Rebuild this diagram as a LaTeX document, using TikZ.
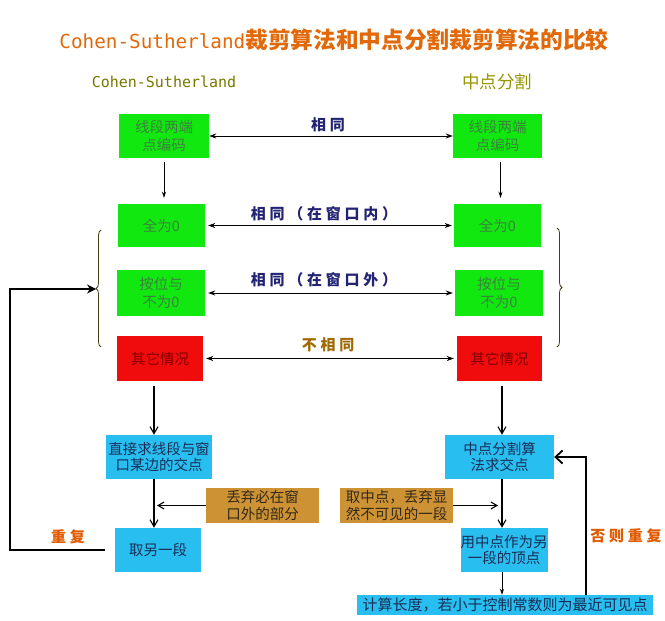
\documentclass[tikz,border=0pt]{standalone}
\usepackage{fontspec}
\setmainfont{Noto Sans CJK SC}
\newfontfamily\mono{DejaVu Sans Mono}
\usetikzlibrary{arrows.meta,decorations.pathreplacing,calc}
\definecolor{gbox}{RGB}{16,232,16}
\definecolor{gtxt}{RGB}{60,130,60}
\definecolor{rbox}{RGB}{240,12,12}
\definecolor{rtxt}{RGB}{130,0,0}
\definecolor{bbox}{RGB}{40,190,240}
\definecolor{btxt}{RGB}{25,45,85}
\definecolor{obox}{RGB}{205,146,52}
\definecolor{otxt}{RGB}{50,40,25}
\definecolor{lblue}{RGB}{35,35,115}
\definecolor{lbrown}{RGB}{160,105,0}
\definecolor{lorange}{RGB}{225,90,0}
\definecolor{ttl}{RGB}{225,105,10}
\definecolor{olive1}{RGB}{120,120,0}
\definecolor{olive2}{RGB}{150,150,0}
\definecolor{brc}{RGB}{70,60,20}
\begin{document}
\begin{tikzpicture}[x=1pt,y=-1pt,
  wh/.style 2 args={minimum width=#1pt,minimum height=#2pt},
  box/.style={inner sep=0pt, align=center, font=\fontsize{14.5}{18}\selectfont},
  gb/.style={box, fill=gbox, text=gtxt},
  rb/.style={box, fill=rbox, text=rtxt},
  bb/.style={box, fill=bbox, text=btxt, font=\fontsize{14.5}{16.5}\selectfont},
  ob/.style={box, fill=obox, text=otxt, font=\fontsize{14.5}{16.5}\selectfont},
  lab/.style={inner sep=0pt, font=\fontsize{15}{15}\selectfont\bfseries\addfontfeature{LetterSpace=25}},
  dar/.style={{Stealth[length=7pt,width=5pt]}-{Stealth[length=7pt,width=5pt]}, line width=1pt},
  ars/.style={-{Stealth[length=6pt,width=4pt]}, line width=1pt},
  vb/.style={-{Straight Barb[length=7pt,width=8pt]}, line width=1.1pt},
  vb2/.style={-{Straight Barb[length=6pt,width=7pt]}, line width=1.1pt},
  bigv/.style={-{Straight Barb[length=7pt,width=13pt,line width=1.8pt]}, line width=1.1pt},
  bigs/.style={-{Stealth[length=9pt,width=9pt]}, line width=1.1pt},
  brace/.style={brc, line width=0.8pt, decorate, decoration={brace, amplitude=5pt}}
]
\useasboundingbox (0,0) rectangle (665,621);
\fill[white] (0,0) rectangle (665,621);

% titles
\node[inner sep=0pt, text=ttl] (title) at (334,40)
  {{\mono\fontsize{19.3}{20}\selectfont Cohen-Sutherland}{\fontsize{22.7}{24}\selectfont\bfseries 裁剪算法和中点分割裁剪算法的比较}};
\node[inner sep=0pt, text=olive1, font=\mono\fontsize{15}{15}\selectfont] (stl) at (164,82) {Cohen-Sutherland};
\node[inner sep=0pt, text=olive2, font=\fontsize{17.5}{18}\selectfont] (str) at (497,82) {中点分割};

% boxes
\node[gb, wh={90}{44}] (L1) at (164,136) {线段两端\\点编码};
\node[gb, wh={89}{44}] (R1) at (497.5,136) {线段两端\\点编码};
\node[gb, wh={87}{43}] (L2) at (161.5,225.5) {全为0};
\node[gb, wh={87}{43}] (R2) at (497.5,225.5) {全为0};
\node[gb, wh={88}{46}] (L3) at (161,293) {按位与\\不为0};
\node[gb, wh={88}{46}] (R3) at (499,293) {按位与\\不为0};
\node[rb, wh={86}{45}] (L4) at (160,358.5) {其它情况};
\node[rb, wh={85}{45}] (R4) at (499.5,358.5) {其它情况};
\node[bb, wh={106}{44}] (L5) at (159,457) {直接求线段与窗\\口某边的交点};
\node[bb, wh={109}{44}] (R5) at (499.5,457) {中点分割算\\法求交点};
\node[ob, wh={113}{35}] (LB) at (262.5,505.5) {丢弃必在窗\\口外的部分};
\node[ob, wh={113}{35}] (RB) at (396.5,505.5) {取中点，丢弃显\\然不可见的一段};
\node[bb, wh={86}{44}] (L6) at (158,550) {取另一段};
\node[bb, wh={86}{44}] (R6) at (504,550) {用中点作为另\\一段的顶点};
\node[bb, wh={296}{20}, font=\fontsize{15}{15}\selectfont] (R7) at (505,605) {计算长度，若小于控制常数则为最近可见点};

% labels
\node[lab, text=lblue] (t1) at (328,125) {相同};
\node[lab, text=lblue] (t2) at (324,214) {相同（在窗口内）};
\node[lab, text=lblue] (t3) at (324,280) {相同（在窗口外）};
\node[lab, text=lbrown] (t4) at (328,345) {不相同};
\node[lab, text=lorange] (t5) at (68,537) {重复};
\node[lab, text=lorange] (t6) at (626,536) {否则重复};

% helper coordinates
\coordinate (lcol) at (154,0);
\coordinate (rcol) at (502,0);
\coordinate (rl) at (586,0);
\coordinate (ll) at (10,0);
\coordinate (btip) at (96,289);

% horizontal comparisons
\draw[dar] (L1.east) -- (R1.west);
\draw[dar, shorten <=3pt, shorten >=2pt] (L2.east) -- (R2.west);
\draw[dar, shorten <=3pt, shorten >=2pt] (L3.east) -- (R3.west);
\draw[dar, shorten <=3pt, shorten >=3pt] (L4.east) -- (R4.west);

% top down arrows
\draw[ars, shorten <=4pt, shorten >=6pt] (L1.south) -- (L1.south |- L2.north);
\draw[ars, shorten <=4pt, shorten >=6pt] ([xshift=3pt]R1.south) -- ([xshift=3pt]R1.south |- R2.north);

% braces
\draw[brace] (101,347) -- (101,230);
\draw[brace] (557,228) -- (557,347);

% left column
\draw[vb, shorten <=5pt] (L4.south -| lcol) -- (L5.north -| lcol);
\draw[vb] (L5.south -| lcol) -- (L6.north -| lcol);
\draw[vb2, shorten >=3pt] (LB.west) -- (LB.west -| lcol);
\draw[bigs, shorten <=10pt] (L6.west) -- (L6.west -| ll) -- (ll |- btip) -- (btip);

% right column
\draw[vb, shorten <=5pt] (R4.south -| rcol) -- (R5.north -| rcol);
\draw[vb] (R5.south -| rcol) -- (R6.north -| rcol);
\draw[vb2, shorten >=4pt] (RB.east) -- (RB.east -| rcol);
\draw[ars] (R6.south -| rcol) -- (R7.north -| rcol);
\draw[bigv] (R7.north -| rl) |- (R5.east);
\end{tikzpicture}
\end{document}
